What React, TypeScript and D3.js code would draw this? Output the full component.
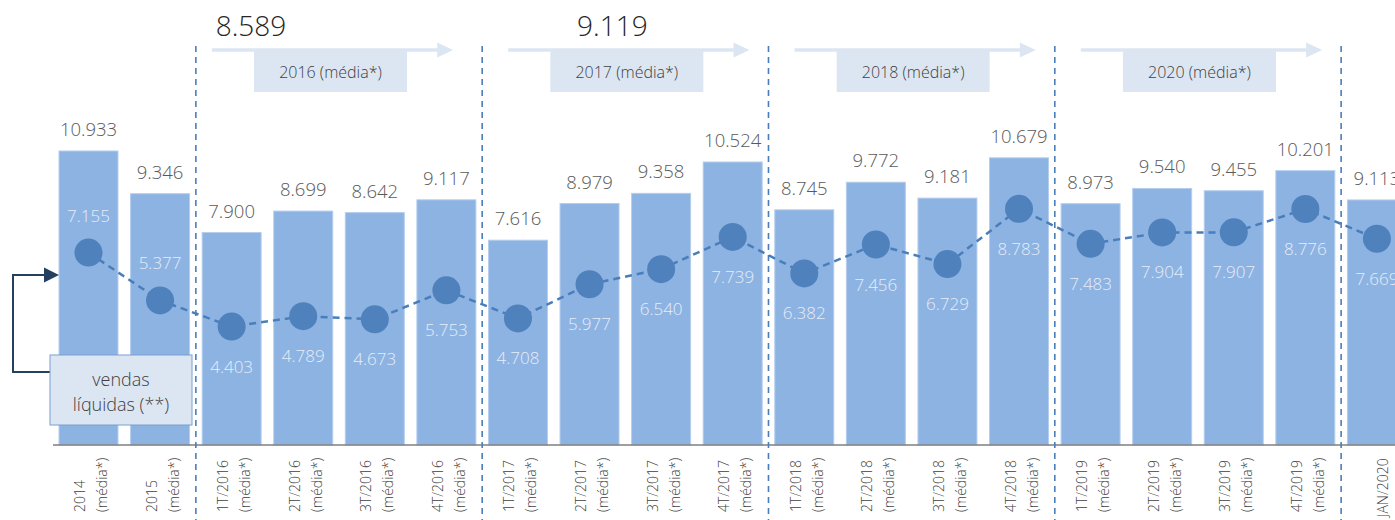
import React from "react";
import * as d3 from "d3";

const categories = [
  "2014", "2015",
  "1T/2016", "2T/2016", "3T/2016", "4T/2016",
  "1T/2017", "2T/2017", "3T/2017", "4T/2017",
  "1T/2018", "2T/2018", "3T/2018", "4T/2018",
  "1T/2019", "2T/2019", "3T/2019", "4T/2019",
  "JAN/2020",
];
const categorySubLabels = [
  "(média*)", "(média*)",
  "(média*)", "(média*)", "(média*)", "(média*)",
  "(média*)", "(média*)", "(média*)", "(média*)",
  "(média*)", "(média*)", "(média*)", "(média*)",
  "(média*)", "(média*)", "(média*)", "(média*)",
  "",
];
const barValues = [
  10933, 9346,
  7900, 8699, 8642, 9117,
  7616, 8979, 9358, 10524,
  8745, 9772, 9181, 10679,
  8973, 9540, 9455, 10201,
  9113,
];
const lineValues = [
  7155, 5377,
  4403, 4789, 4673, 5753,
  4708, 5977, 6540, 7739,
  6382, 7456, 6729, 8783,
  7483, 7904, 7907, 8776,
  7669,
];
const groupLabels = ["2016 (média*)", "2017 (média*)", "2018 (média*)", "2020 (média*)"];
const groupStartIndex = [2, 6, 10, 14];
const groupAverages = ["8.589", "9.119", "", ""];
const legendText = ["vendas", "líquidas (**)"];

const W = 1395;
const H = 520;
const FONT = "'Open Sans', 'Noto Sans', sans-serif";

const fmt = d3.formatLocale({ decimal: ",", thousands: ".", grouping: [3], currency: ["R$", ""] }).format(",d");

export default function App() {
  const x = d3.scaleBand<string>().domain(categories).range([46.4, 1419]).paddingInner(0.176).paddingOuter(0.176);
  const y = d3.scaleLinear().domain([0, 11000]).range([445, 149.2]);
  const bw = x.bandwidth();
  const step = x.step();
  const cx = (i: number) => (x(categories[i]) as number) + bw / 2;
  const sepX = (i: number) => (x(categories[i]) as number) - (step - bw) / 2;

  const separators = [...groupStartIndex, 18].map((i) => sepX(i));

  const line = d3.line<number>().x((_, i) => cx(i)).y((d) => y(d));

  const avgOffsets = [-88, -13];
  const arrowShift = [-10, 0, 0, 0];
  const labelAbove = (i: number) => i < 2;

  return (
    <svg width={W} height={H} style={{ position: "absolute", left: 0, top: 0, background: "#fff" }} fontFamily={FONT} fontWeight={300}>
      {barValues.map((v, i) => (
        <rect key={"b" + i} x={x(categories[i])} y={y(v)} width={bw} height={y(0) - y(v)} fill="#8db3e2" stroke="#b4cdee" strokeWidth={1} />
      ))}
      {barValues.map((v, i) => (
        <text key={"bl" + i} x={cx(i)} y={y(v) - 15} textAnchor="middle" fontSize={18.5} fill="#595959">
          {fmt(v)}
        </text>
      ))}
      <line x1={53} x2={W} y1={y(0)} y2={y(0)} stroke="#7f7f7f" strokeWidth={1.5} />
      {separators.map((sx, i) => (
        <line key={"s" + i} x1={sx} x2={sx} y1={46} y2={H} stroke="#4a7ebb" strokeWidth={1.6} strokeDasharray="6,5" />
      ))}
      <path d={line(lineValues) || ""} fill="none" stroke="#4a7ebb" strokeWidth={2.5} strokeDasharray="7,5" />
      {lineValues.map((v, i) => (
        <circle key={"c" + i} cx={cx(i)} cy={y(v)} r={14} fill="#4f81bd" />
      ))}
      {lineValues.map((v, i) => (
        <text key={"cl" + i} x={cx(i)} y={labelAbove(i) ? y(v) - 31 : y(v) + 46} textAnchor="middle" fontSize={17} fill="#e6edf7">
          {fmt(v)}
        </text>
      ))}
      {categories.map((c, i) => {
        const sub = categorySubLabels[i];
        const base = cx(i);
        return (
          <g key={"t" + i}>
            <text transform={`translate(${sub ? base - 9 : base + 6},${sub ? 512 : 517}) rotate(-90)`} fontSize={14} fill="#404040" dominantBaseline="central">
              {c}
            </text>
            {sub && (
              <text transform={`translate(${base + 13},512) rotate(-90)`} fontSize={14} fill="#404040" dominantBaseline="central">
                {sub}
              </text>
            )}
          </g>
        );
      })}
      {groupLabels.map((g, k) => {
        const s0 = separators[k];
        const s1 = separators[k + 1];
        const a0 = s0 + 26 + arrowShift[k];
        const a1 = s1 - 19 + arrowShift[k];
        const mid = (a0 + a1) / 2 - 2;
        return (
          <g key={"g" + k}>
            <line x1={a0} x2={a1 - 14} y1={50} y2={50} stroke="#dce6f2" strokeWidth={3.5} />
            <path d={`M${a1 - 16},42.5 L${a1},50 L${a1 - 16},57.5 Z`} fill="#dce6f2" />
            <rect x={mid - 76.5} y={50} width={153} height={42} fill="#dce6f2" />
            <text x={mid} y={78} textAnchor="middle" fontSize={16} fill="#404040">
              {g}
            </text>
            {groupAverages[k] && (
              <text x={(s0 + s1) / 2 + avgOffsets[k]} y={36} textAnchor="middle" fontSize={28} fill="#262626">
                {groupAverages[k]}
              </text>
            )}
          </g>
        );
      })}
      <path d="M50,372 L13,372 L13,275 L46,275" fill="none" stroke="#243f60" strokeWidth={2} />
      <path d="M44,267.5 L59,275 L44,282.5 Z" fill="#243f60" />
      <rect x={50} y={355} width={142} height={70} fill="#dce6f2" stroke="#7ba0d4" strokeWidth={1} />
      <text x={121} y={386} textAnchor="middle" fontSize={18} fill="#404040">{legendText[0]}</text>
      <text x={121} y={411} textAnchor="middle" fontSize={18} fill="#404040">{legendText[1]}</text>
    </svg>
  );
}
